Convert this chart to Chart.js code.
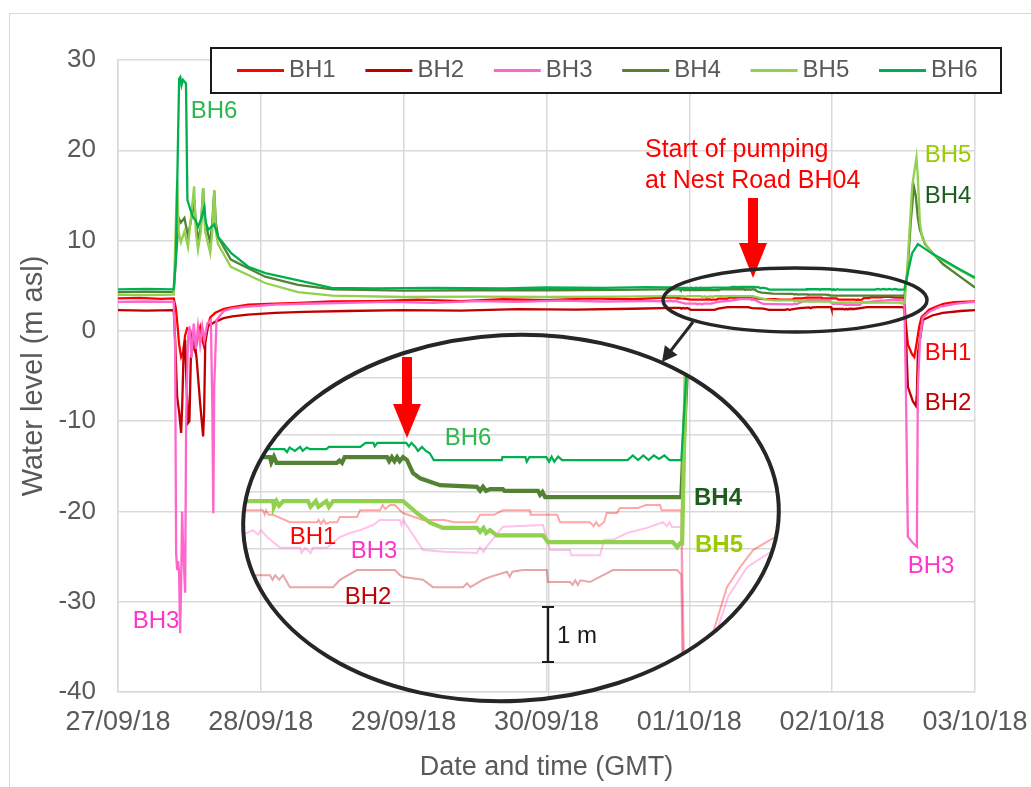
<!DOCTYPE html>
<html>
<head>
<meta charset="utf-8">
<script src="https://cdn.jsdelivr.net/npm/chart.js@4.4.1/dist/chart.umd.min.js"></script>
<style>
html,body{margin:0;padding:0;background:#fff;overflow:hidden}
#wrap{position:relative;width:1031px;height:787px;overflow:hidden}
#frame{position:absolute;left:9px;top:13px;width:1100px;height:900px;border-left:1.5px solid #d9d9d9;border-top:1.5px solid #d9d9d9}
canvas{position:absolute}
</style>
</head>
<body>
<div id="wrap">
<div id="frame"></div>
<canvas id="main" width="1031" height="787" style="left:0;top:0"></canvas>
<canvas id="inset" width="560" height="400" style="left:230px;top:320px"></canvas>
</div>
<script>
// ---------------- DATA (days since 27/09/18 00:00, water level m asl) ----------------
const DATE_LABELS = ['27/09/18','28/09/18','29/09/18','30/09/18','01/10/18','02/10/18','03/10/18'];
const SERIES_NAMES = ['BH1','BH2','BH3','BH4','BH5','BH6'];

const BH1 = [
[0,3.6],[0.15,3.65],[0.3,3.55],[0.39,3.6],[0.405,2.5],[0.415,0.9],[0.428,-1.5],[0.442,-2.9],[0.456,-2.4],[0.47,-0.5],[0.484,0.3],[0.505,0.1],[0.52,-1.5],[0.54,-2.3],[0.56,-0.5],[0.575,0.4],[0.59,-1],[0.604,-1.8],[0.62,0],[0.646,1.5],[0.681,2.0],[0.737,2.4],[0.793,2.6],[0.912,2.9],[1.1,3.0],[1.263,3.1],[1.5,3.25],[1.8,3.3],[2.1,3.45],[2.4,3.3],[2.7,3.5],[3.0,3.4],[3.3,3.6],[3.6,3.5],
[3.821,3.68],[3.908,3.68],[3.915,3.6],[3.92,3.68],[3.93,3.6],[3.947,3.6],[4.011,3.47],[4.115,3.47],[4.12,3.51],[4.13,3.44],[4.14,3.51],[4.15,3.44],[4.164,3.47],[4.191,3.47],[4.202,3.56],[4.267,3.56],[4.279,3.68],[4.355,3.68],[4.365,3.77],[4.375,3.7],[4.393,3.77],[4.412,3.77],[4.431,3.68],[4.443,3.63],[4.519,3.51],[4.6,3.51],[4.64,3.47],[4.72,3.47],[4.737,3.6],[4.79,3.6],[4.824,3.68],[4.927,3.68],[4.93,3.6],[5.031,3.6],[5.042,3.47],[5.156,3.47],[5.17,3.4],[5.18,3.47],[5.19,3.4],[5.21,3.47],[5.22,3.63],[5.26,3.63],[5.27,3.72],[5.34,3.72],[5.37,3.77],[5.424,3.77],[5.43,3.68],[5.505,3.68],
[5.515,1.0],[5.53,-1.5],[5.56,-2.6],[5.575,-2.9],[5.59,-1.5],[5.61,0.5],[5.626,1.53],[5.679,2.33],[5.729,2.68],[5.779,2.98],[5.855,3.19],[6.0,3.25]
];
const BH2 = [
[0,2.3],[0.2,2.25],[0.39,2.3],[0.40,-1],[0.414,-7.3],[0.428,-9],[0.442,-11.3],[0.45,-8],[0.46,-2],[0.47,-1],[0.48,-6],[0.491,-10.2],[0.50,-10],[0.51,-3],[0.53,-0.5],[0.55,-3],[0.575,-8],[0.596,-11.7],[0.603,-9],[0.611,-1.3],[0.63,0.5],[0.68,1.0],[0.74,1.4],[0.8,1.6],[0.91,1.8],[1.1,2.0],[1.3,2.1],[1.6,2.2],[2.0,2.3],[2.4,2.25],[2.8,2.4],[3.2,2.35],[3.6,2.45],
[3.889,2.54],[3.935,2.54],[3.945,2.46],[3.955,2.54],[3.97,2.46],[3.985,2.54],[4.011,2.33],[4.176,2.33],[4.202,2.46],[4.267,2.63],[4.412,2.63],[4.431,2.54],[4.443,2.51],[4.519,2.46],[4.557,2.33],[4.672,2.33],[4.687,2.4],[4.70,2.33],[4.748,2.46],[4.775,2.51],[4.84,2.6],[4.85,2.51],[4.86,2.6],[4.901,2.63],[4.992,2.63],[4.996,2.42],[5.08,2.42],[5.09,2.37],[5.10,2.45],[5.11,2.37],[5.12,2.45],[5.156,2.42],[5.244,2.63],[5.309,2.63],[5.489,2.63],[5.505,2.55],
[5.515,0],[5.53,-6.2],[5.565,-7.8],[5.586,-8.3],[5.593,-7],[5.60,-2.5],[5.635,1.2],[5.7,1.7],[5.775,2.0],[5.9,2.2],[6.0,2.3]
];
const BH3 = [
[0,3.2],[0.2,3.25],[0.39,3.2],[0.40,-2],[0.407,-24.6],[0.414,-26.5],[0.421,-25.5],[0.428,-27],[0.435,-33.5],[0.442,-28],[0.449,-20],[0.456,-24],[0.47,-29],[0.477,-10],[0.49,-1],[0.5,0.5],[0.515,-3],[0.53,0.8],[0.545,-2],[0.56,0.5],[0.575,-1.5],[0.59,0.5],[0.605,-1],[0.625,0.8],[0.65,1.2],[0.66,-8],[0.667,-20.2],[0.674,-6],[0.69,1.2],[0.74,2.2],[0.8,2.5],[0.912,2.7],[1.1,2.9],[1.3,3.0],[1.6,3.1],[1.9,3.2],[2.2,3.1],[2.5,3.3],[2.8,3.2],[3.1,3.35],[3.4,3.25],[3.7,3.3],
[3.847,3.28],[3.870,3.33],[3.89,3.25],[3.90,3.33],[3.924,3.21],[3.973,3.02],[4.05,3.02],[4.055,2.93],[4.07,3.02],[4.09,2.93],[4.10,3.02],[4.153,3.02],[4.202,3.21],[4.24,3.28],[4.279,3.33],[4.328,3.42],[4.355,3.51],[4.431,3.51],[4.437,3.42],[4.443,3.51],[4.519,2.98],[4.60,2.95],[4.725,2.93],[4.737,3.03],[4.75,2.95],[4.76,3.03],[4.824,3.39],[4.977,3.42],[5.004,2.98],[5.08,2.98],[5.085,2.89],[5.195,2.89],[5.21,3.16],[5.244,3.16],[5.298,3.28],[5.374,3.37],[5.435,3.47],[5.45,3.4],[5.46,3.47],[5.47,3.38],[5.505,3.39],
[5.515,-5],[5.53,-22.8],[5.565,-23.5],[5.593,-23.9],[5.60,-6.2],[5.615,-1],[5.634,1.46],[5.683,2.16],[5.756,2.68],[5.870,3.02],[6.0,3.2]
];
const BH4 = [
[0,4.3],[0.2,4.35],[0.39,4.3],[0.41,9],[0.425,12.5],[0.44,12],[0.465,12.5],[0.49,10.5],[0.52,13],[0.533,14.5],[0.545,12],[0.56,10],[0.58,11.5],[0.596,15.8],[0.61,12],[0.646,9.8],[0.66,12],[0.674,15.5],[0.685,12],[0.70,10.4],[0.79,7.9],[1.03,6.0],[1.26,5.1],[1.5,4.6],[2,4.45],[2.5,4.5],[3,4.5],[3.5,4.55],[3.82,4.6],
[3.885,4.61],[3.935,4.61],[3.94,4.52],[3.95,4.62],[3.96,4.51],[4.19,4.51],[4.20,4.55],[4.21,4.51],[4.22,4.61],[4.382,4.61],[4.39,4.54],[4.40,4.61],[4.41,4.54],[4.42,4.61],[4.43,4.54],[4.443,4.61],[4.458,4.56],[4.481,4.33],[4.508,4.24],[4.584,4.12],[4.725,4.09],[4.737,4.02],[4.748,4.09],[4.76,4.02],[4.775,4.05],[4.824,4.05],[4.83,4.02],[4.958,4.02],[4.966,3.95],[4.975,4.0],[4.985,3.91],[5.505,3.91],
[5.525,6],[5.55,12],[5.572,16.0],[5.585,15],[5.60,12.5],[5.614,11.2],[5.65,9.6],[5.705,8.6],[5.775,7.4],[5.895,6.0],[6.0,4.8]
];
const BH5 = [
[0,4.0],[0.2,3.95],[0.39,4.0],[0.405,12],[0.414,16.7],[0.425,11],[0.44,9.8],[0.465,11],[0.49,9.3],[0.52,14],[0.533,16],[0.545,11],[0.56,9.0],[0.58,11],[0.596,15.8],[0.61,11],[0.646,8.6],[0.66,11],[0.674,15.6],[0.685,11],[0.70,9.6],[0.79,7.1],[1.03,5.3],[1.26,4.3],[1.5,3.9],[2,3.75],[2.5,3.8],[3,3.75],[3.5,3.8],
[3.821,3.84],[3.947,3.84],[3.95,3.74],[3.96,3.84],[3.97,3.76],[3.985,3.84],[4.08,3.84],[4.09,3.74],[4.11,3.84],[4.12,3.74],[4.15,3.84],[4.16,3.74],[4.176,3.84],[4.443,3.84],[4.496,3.63],[4.546,3.46],[4.595,3.37],[4.725,3.37],[4.737,3.30],[4.75,3.37],[4.76,3.28],[4.775,3.33],[4.8,3.24],[4.977,3.24],[4.996,3.12],[5.473,3.12],[5.489,3.03],[5.50,3.1],[5.508,3.1],
[5.53,8],[5.56,16],[5.59,19.2],[5.60,17],[5.614,12],[5.63,10.3],[5.663,9.4],[5.705,8.5],[5.775,7.8],[5.895,6.7],[6.0,5.8]
];
const BH6 = [
[0,4.6],[0.2,4.65],[0.39,4.6],[0.405,8],[0.428,27.9],[0.436,28.1],[0.445,27.2],[0.455,27.8],[0.476,27.4],[0.486,14.5],[0.505,13.5],[0.526,12.6],[0.545,12.2],[0.56,11.5],[0.585,12.5],[0.604,13.7],[0.615,12],[0.632,11.2],[0.66,11.6],[0.674,11.8],[0.702,10.4],[0.793,8.6],[0.912,7.1],[1.032,6.4],[1.263,5.6],[1.495,4.75],[1.8,4.7],[2.2,4.75],[2.7,4.7],[3.0,4.8],[3.4,4.75],[3.7,4.85],
[3.82,4.82],[3.908,4.82],[3.92,4.75],[3.99,4.75],[4.0,4.7],[4.01,4.78],[4.03,4.72],[4.05,4.79],[4.06,4.72],[4.075,4.78],[4.088,4.75],[4.15,4.75],[4.16,4.79],[4.28,4.79],[4.30,4.86],[4.33,4.86],[4.335,4.8],[4.345,4.86],[4.455,4.86],[4.465,4.8],[4.475,4.86],[4.49,4.79],[4.50,4.72],[4.515,4.79],[4.53,4.72],[4.545,4.68],[4.56,4.56],[4.82,4.56],[4.822,4.61],[4.91,4.61],[4.915,4.53],[4.925,4.61],[4.99,4.61],[5.0,4.53],[5.01,4.62],[5.02,4.53],[5.035,4.62],[5.05,4.56],[5.30,4.56],[5.32,4.64],[5.34,4.56],[5.36,4.64],[5.38,4.56],[5.40,4.64],[5.42,4.58],[5.44,4.64],[5.46,4.56],[5.505,4.56],
[5.53,6.5],[5.56,8.6],[5.60,9.6],[5.63,9.3],[5.705,8.5],[5.775,7.9],[5.895,6.8],[6.0,5.9]
];
const SERIES_DATA = [BH1, BH2, BH3, BH4, BH5, BH6];

// ---------------- STYLE ----------------
const FONT = "'Liberation Sans', Arial, sans-serif";
const TXT = '#595959';
const GRID = '#d9d9d9';
const COLORS = ['#FF0000','#C00000','#FF66CC','#548235','#92D050','#00B050'];
const INSET_COLORS = ['rgba(255,0,0,0.35)','rgba(192,0,0,0.35)','rgba(255,102,204,0.4)','#548235','#92D050','#00B050'];
const INSET_WIDTHS = [2, 2, 2, 4.2, 4.2, 2.2];
const IX = 230, IY = 320; // inset canvas offset on page
const ELL = {cx: 511, cy: 518, rx: 268, ry: 183, rot: -0.05};

const toXY = arr => arr.map(p => ({x: p[0], y: p[1]}));

function txt(ctx, s, x, y, color, size, align, weight) {
  ctx.save();
  ctx.font = (weight || 'normal') + ' ' + size + 'px ' + FONT;
  ctx.fillStyle = color;
  ctx.textAlign = align || 'center';
  ctx.textBaseline = 'middle';
  ctx.fillText(s, x, y);
  ctx.restore();
}
function downArrow(ctx, x, y0, y1, shaftW, headW, headY, color) {
  ctx.save();
  ctx.fillStyle = color;
  ctx.fillRect(x - shaftW / 2, y0, shaftW, headY - y0 + 1);
  ctx.beginPath();
  ctx.moveTo(x - headW / 2, headY);
  ctx.lineTo(x + headW / 2, headY);
  ctx.lineTo(x, y1);
  ctx.closePath();
  ctx.fill();
  ctx.restore();
}

// ---------------- MAIN CHART ----------------
const mainAnnot = {
  id: 'mainAnnot',
  afterDraw(chart) {
    const c = chart.ctx;
    // legend
    c.save();
    c.fillStyle = '#fff';
    c.fillRect(211, 48, 790, 45);
    c.strokeStyle = '#1a1a1a';
    c.lineWidth = 2;
    c.strokeRect(211, 48, 790, 45);
    chart.data.datasets.forEach((ds, i) => {
      const lx = 237 + i * 128.4;
      c.strokeStyle = ds.borderColor;
      c.lineWidth = 3;
      c.beginPath(); c.moveTo(lx, 70.5); c.lineTo(lx + 47, 70.5); c.stroke();
      txt(c, ds.label, lx + 52, 70, TXT, 24, 'left');
    });
    c.restore();
    // series labels
    txt(c, 'BH6', 214, 111, '#2DB84C', 24);
    txt(c, 'BH3', 156, 621, '#FF33CC', 24);
    txt(c, 'BH5', 948, 155, '#99CC00', 24);
    txt(c, 'BH4', 948, 196, '#1E5C1E', 24);
    txt(c, 'BH1', 948, 353, '#FF0000', 24);
    txt(c, 'BH2', 948, 403, '#C00000', 24);
    txt(c, 'BH3', 931, 566, '#FF33CC', 24);
    // pumping note
    txt(c, 'Start of pumping', 645, 150, '#FF0000', 25, 'left');
    txt(c, 'at Nest Road BH04', 645, 181, '#FF0000', 25, 'left');
    downArrow(c, 753, 198, 278, 10, 28, 243, '#FF0000');
    // small ellipse
    c.save();
    c.strokeStyle = '#262626';
    c.lineWidth = 3.5;
    c.beginPath(); c.ellipse(795, 300, 132, 32, 0, 0, Math.PI * 2); c.stroke();
    // black arrow to inset
    const x0 = 693, y0 = 322, x1 = 662, y1 = 362;
    const dx = x1 - x0, dy = y1 - y0, L = Math.hypot(dx, dy), ux = dx / L, uy = dy / L;
    c.lineWidth = 3;
    c.beginPath(); c.moveTo(x0, y0); c.lineTo(x1 - ux * 10, y1 - uy * 10); c.stroke();
    c.fillStyle = '#262626';
    c.beginPath();
    c.moveTo(x1, y1);
    c.lineTo(x1 - ux * 15 - uy * 8, y1 - uy * 15 + ux * 8);
    c.lineTo(x1 - ux * 15 + uy * 8, y1 - uy * 15 - ux * 8);
    c.closePath(); c.fill();
    c.restore();
  }
};

new Chart(document.getElementById('main'), {
  type: 'line',
  data: {
    datasets: SERIES_DATA.map((arr, i) => ({
      label: SERIES_NAMES[i], data: toXY(arr), borderColor: COLORS[i], backgroundColor: COLORS[i],
      borderWidth: 2.3, pointRadius: 0, tension: 0, fill: false, order: 6 - i
    }))
  },
  options: {
    responsive: false, animation: false, devicePixelRatio: 1,
    layout: {padding: {left: 0, right: 56, top: 60, bottom: 0}},
    plugins: {legend: {display: false}, tooltip: {enabled: false}},
    scales: {
      x: {
        type: 'linear', min: 0, max: 6,
        afterFit: s => { s.height = 95; s.paddingLeft = 0; s.paddingRight = 0; },
        ticks: {stepSize: 1, autoSkip: false, maxRotation: 0, padding: 14, color: TXT,
                font: {family: FONT, size: 27}, callback: v => DATE_LABELS[Math.round(v)]},
        grid: {color: GRID, lineWidth: 1.5, drawTicks: false},
        border: {color: GRID, width: 1.5},
        title: {display: true, text: 'Date and time (GMT)', color: TXT, font: {family: FONT, size: 27},
                padding: {top: 0, bottom: 3}}
      },
      y: {
        min: -40, max: 30,
        afterFit: s => { s.width = 118; s.paddingTop = 0; s.paddingBottom = 0; },
        ticks: {stepSize: 10, padding: 22, color: TXT, font: {family: FONT, size: 26}},
        grid: {color: GRID, lineWidth: 1.5, drawTicks: false},
        border: {color: GRID, width: 1.5},
        title: {display: true, text: 'Water level (m asl)', color: TXT, font: {family: FONT, size: 29},
                padding: {top: 17, bottom: 0}}
      }
    }
  },
  plugins: [mainAnnot]
});

// ---------------- INSET (zoomed view, same data) ----------------
const insetPlugin = {
  id: 'insetClip',
  beforeDraw(chart) {
    const c = chart.ctx;
    c.save();
    c.beginPath();
    c.ellipse(ELL.cx - IX, ELL.cy - IY, ELL.rx, ELL.ry, ELL.rot, 0, Math.PI * 2);
    c.clip();
  },
  afterDraw(chart) {
    const c = chart.ctx;
    c.restore();
    c.save();
    c.strokeStyle = '#262626';
    c.lineWidth = 4;
    c.beginPath();
    c.ellipse(ELL.cx - IX, ELL.cy - IY, ELL.rx, ELL.ry, ELL.rot, 0, Math.PI * 2);
    c.stroke();
    c.restore();
    const P = (x, y) => [x - IX, y - IY];
    downArrow(c, 407 - IX, 357 - IY, 438 - IY, 10, 28, 404 - IY, '#FF0000');
    txt(c, 'BH6', ...P(468, 438), '#2DB84C', 24);
    txt(c, 'BH1', ...P(313, 537), '#FF0000', 24);
    txt(c, 'BH3', ...P(374, 551), '#FF33CC', 24);
    txt(c, 'BH2', ...P(368, 597), '#C00000', 24);
    txt(c, 'BH4', ...P(718, 498), '#1E5C1E', 24, 'center', 'bold');
    txt(c, 'BH5', ...P(719, 545), '#99CC00', 24, 'center', 'bold');
    // 1 m scale bar
    c.save();
    c.strokeStyle = '#1a1a1a';
    c.lineWidth = 2.2;
    c.beginPath();
    c.moveTo(548 - IX, 607 - IY); c.lineTo(548 - IX, 662 - IY);
    c.moveTo(542 - IX, 607 - IY); c.lineTo(554 - IX, 607 - IY);
    c.moveTo(542 - IX, 662 - IY); c.lineTo(554 - IX, 662 - IY);
    c.stroke();
    c.restore();
    txt(c, '1 m', 557 - IX, 636 - IY, '#1a1a1a', 24, 'left');
  }
};
const keepInt = s => { s.ticks = s.ticks.filter(t => Math.abs(t.value - Math.round(t.value)) < 1e-6); };

new Chart(document.getElementById('inset'), {
  type: 'line',
  data: {
    datasets: SERIES_DATA.map((arr, i) => ({
      label: SERIES_NAMES[i], data: toXY(arr), borderColor: INSET_COLORS[i],
      borderWidth: INSET_WIDTHS[i], pointRadius: 0, tension: 0, fill: false, order: 6 - i
    }))
  },
  options: {
    responsive: false, animation: false, devicePixelRatio: 1,
    layout: {padding: 0},
    plugins: {legend: {display: false}, tooltip: {enabled: false}},
    scales: {
      x: {type: 'linear', min: 3.7824, max: 5.9198,
          ticks: {display: false, stepSize: 1}, afterBuildTicks: keepInt, afterFit: s => { s.height = 0; },
          grid: {color: GRID, lineWidth: 1.5, drawTicks: false}, border: {display: false}},
      y: {min: 0, max: 7.0167,
          ticks: {display: false, stepSize: 1}, afterBuildTicks: keepInt, afterFit: s => { s.width = 0; },
          grid: {color: GRID, lineWidth: 1.5, drawTicks: false}, border: {display: false}}
    }
  },
  plugins: [insetPlugin]
});
</script>
</body>
</html>
